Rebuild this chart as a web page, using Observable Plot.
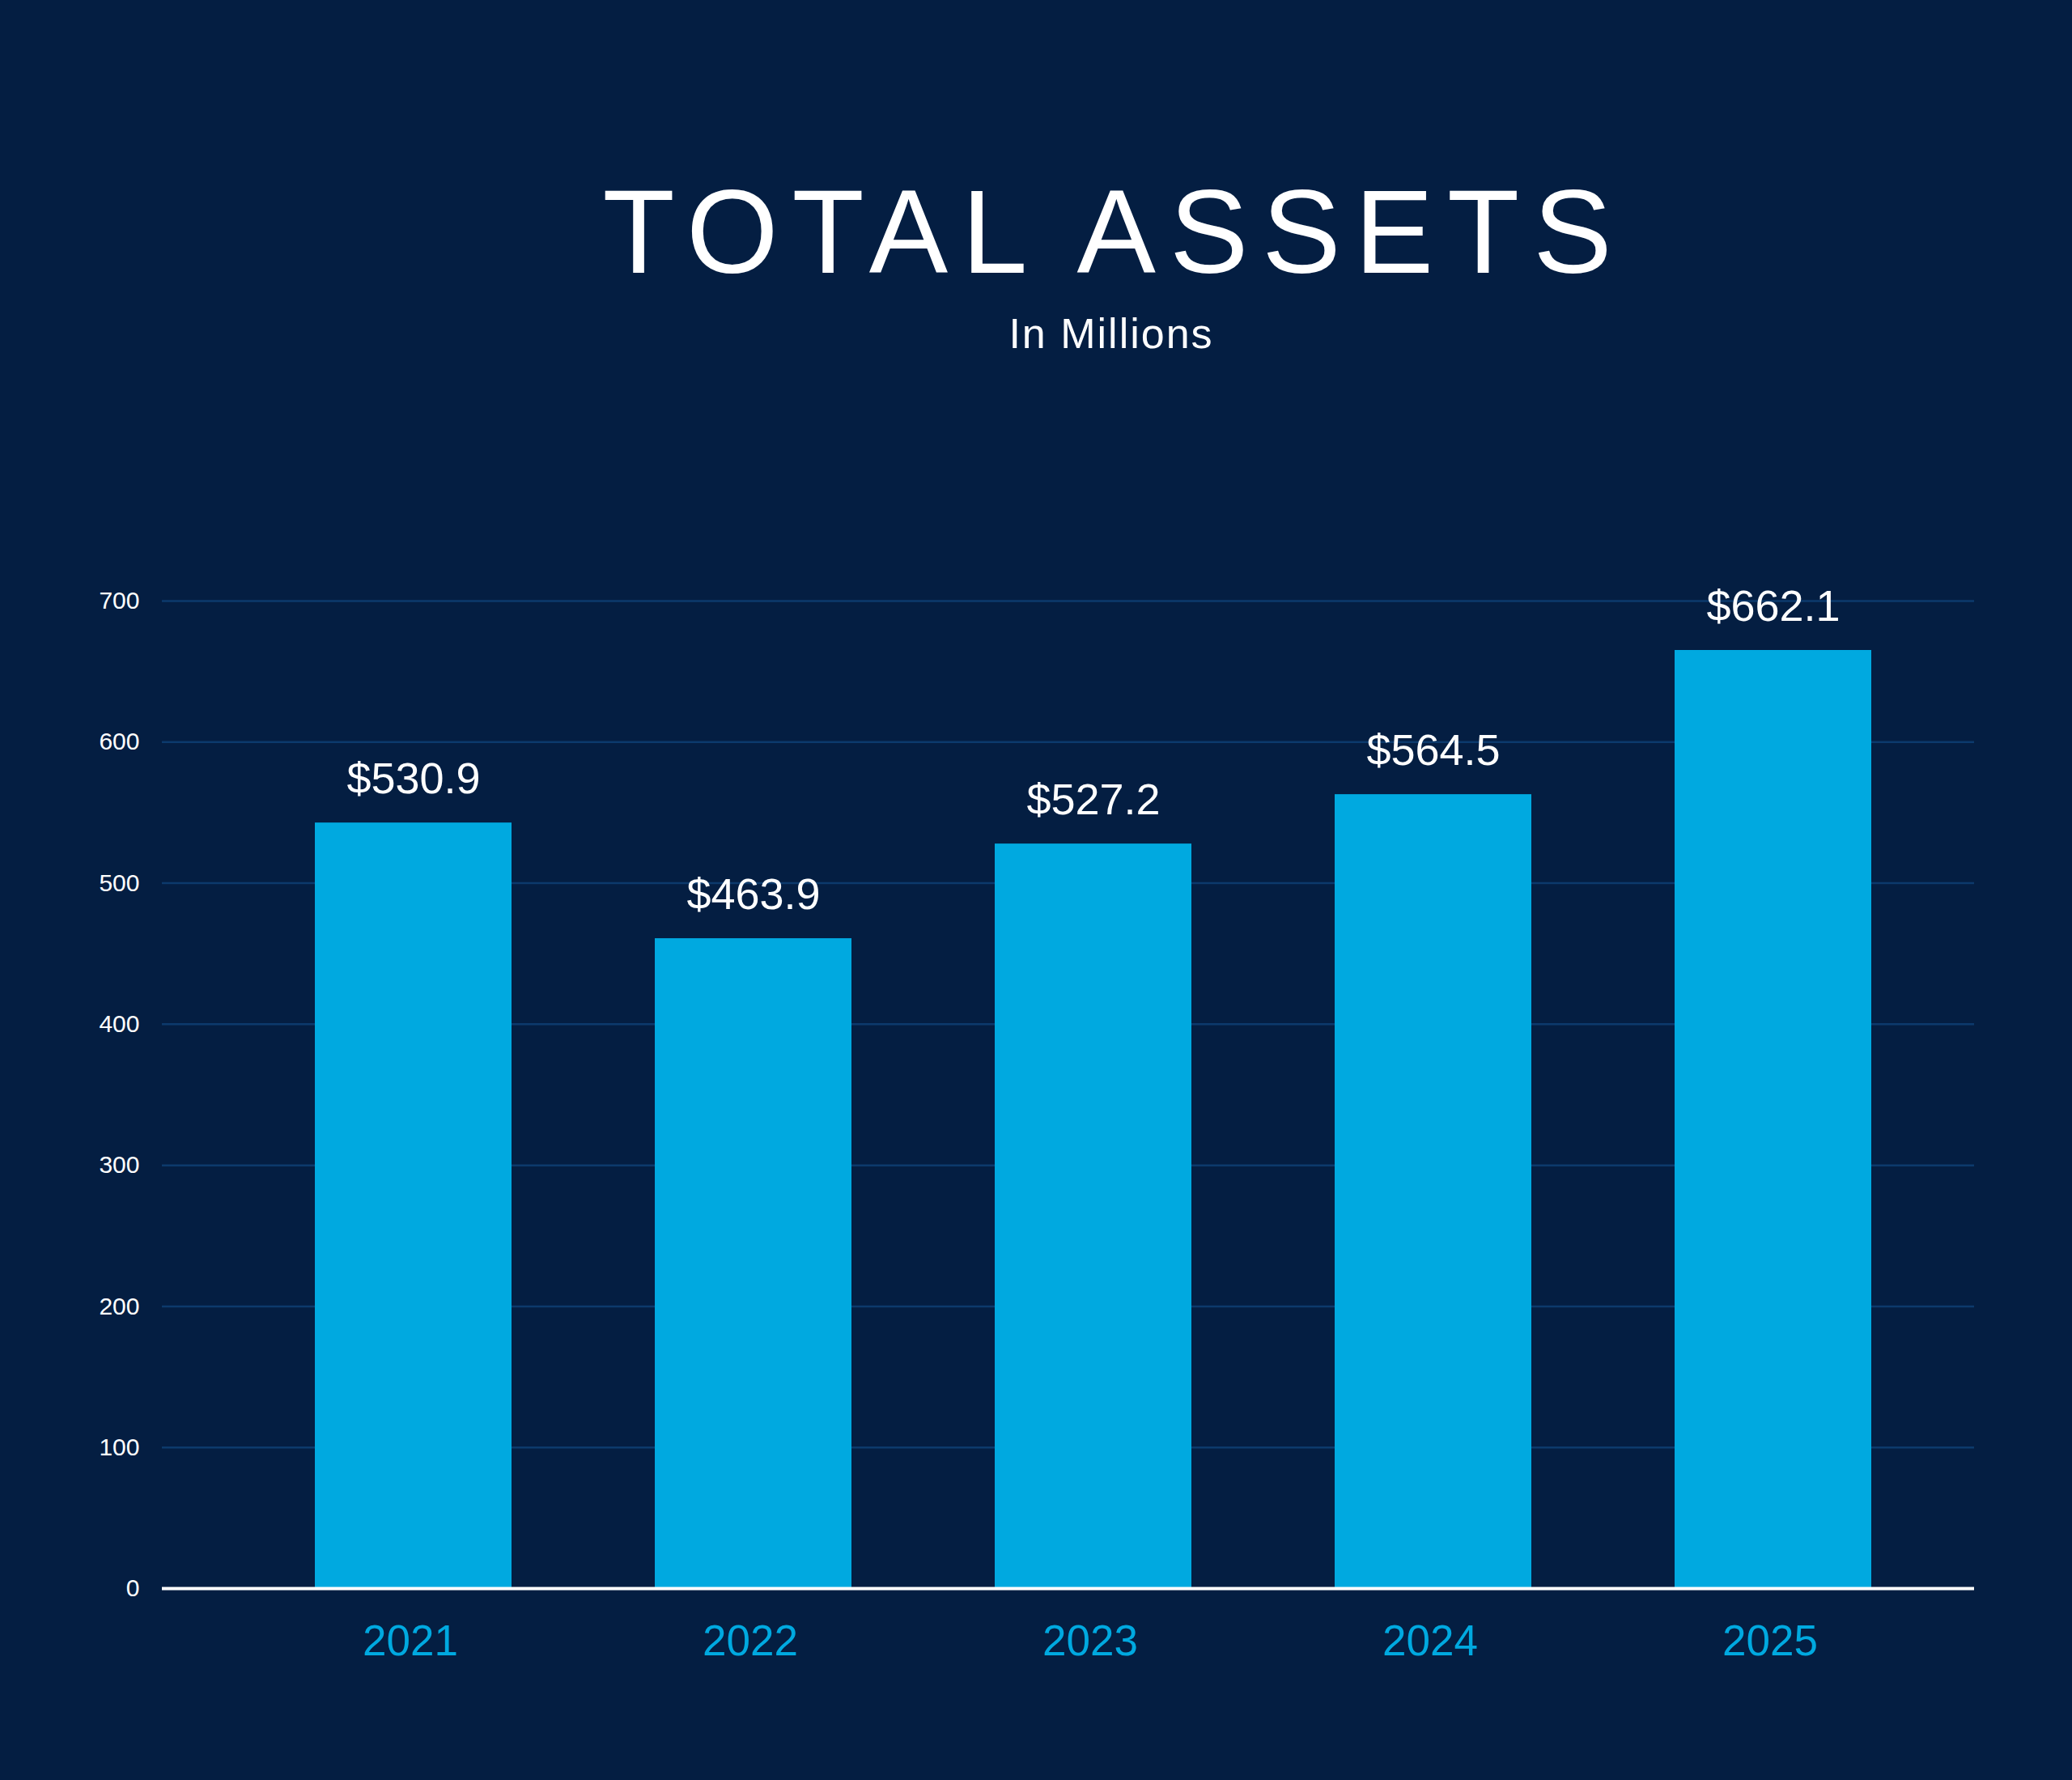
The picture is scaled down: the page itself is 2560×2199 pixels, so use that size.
<!DOCTYPE html>
<html>
<head>
<meta charset="utf-8">
<script src="https://cdn.jsdelivr.net/npm/d3@7"></script>
<script src="https://cdn.jsdelivr.net/npm/@observablehq/plot@0.6"></script>
<style>
  html, body { margin: 0; padding: 0; background: #041e42; }
  #page { position: relative; width: 2560px; height: 2199px; background: #041e42; overflow: hidden;
          font-family: "Liberation Sans", Arial, sans-serif; }
  #title { position: absolute; left: 0; top: 214px; width: 2736px; text-align: center;
           font-size: 146px; line-height: 146px; letter-spacing: 17px; padding-left: 17px; box-sizing: border-box;
           color: #ffffff; white-space: nowrap; }
  #subtitle { position: absolute; left: 0; top: 386px; width: 2744px; text-align: center;
              font-size: 52px; line-height: 52px; letter-spacing: 2px; padding-left: 2px; box-sizing: border-box;
              color: #ffffff; white-space: nowrap; }
  #chart { position: absolute; left: 0; top: 600px; }
</style>
</head>
<body>
<div id="page">
  <div id="title">TOTAL ASSETS</div>
  <div id="subtitle">In Millions</div>
  <div id="chart"></div>
</div>
<script>
const years = ["2021", "2022", "2023", "2024", "2025"];
const barValues = [542.7, 460.7, 527.8, 562.8, 665.0];
const valueLabels = ["$530.9", "$463.9", "$527.2", "$564.5", "$662.1"];
const yTicks = [0, 100, 200, 300, 400, 500, 600, 700];

const barColor = "#00a9e0";
const gridColor = "#0c3a6c";

const data = years.map((year, i) => ({year, value: barValues[i], label: valueLabels[i]}));

const chart = Plot.plot({
  width: 2560,
  height: 1599,
  marginLeft: 200,
  marginRight: 121,
  marginTop: 142,
  marginBottom: 237,
  style: {background: "transparent", fontFamily: "'Liberation Sans', Arial, sans-serif", overflow: "visible"},
  x: {domain: years, padding: 0.421, insetLeft: 12.5, insetRight: -50.5, label: null},
  y: {domain: [0, 700], label: null},
  marks: [
    Plot.ruleY(yTicks.filter(d => d > 0), {stroke: gridColor, strokeWidth: 2.5}),
    Plot.barY(data, {x: "year", y: "value", fill: barColor}),
    Plot.ruleY([0], {stroke: "#ffffff", strokeWidth: 4}),
    Plot.text(data, {x: "year", y: "value", text: "label", dy: -37, lineAnchor: "bottom",
                     fill: "#ffffff", fontSize: 54}),
    Plot.axisY({ticks: yTicks, tickSize: 0, tickPadding: 28, fontSize: 30, fill: "#ffffff", label: null}),
    Plot.axisX({tickSize: 0, tickPadding: 45, fontSize: 53, fill: barColor, label: null, dx: -4})
  ]
});
document.getElementById("chart").appendChild(chart);
</script>
</body>
</html>
